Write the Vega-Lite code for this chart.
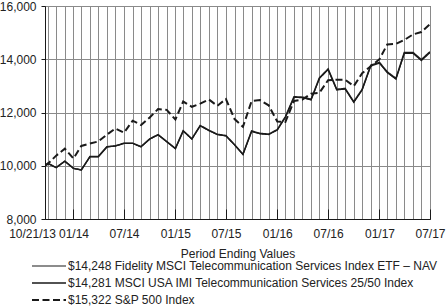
{
  "$schema": "https://vega.github.io/schema/vega-lite/v6.json",
  "width": 385,
  "height": 213,
  "autosize": {"type": "none"},
  "padding": {"left": 45, "top": 6, "right": 16, "bottom": 87},
  "background": "white",
  "config": {
    "font": "Liberation Sans",
    "view": {"stroke": "#1a1a1a", "strokeWidth": 1},
    "axis": {"labelFont": "Liberation Sans", "titleFont": "Liberation Sans", "labelColor": "#222222", "titleColor": "#222222"}
  },
  "data": {
    "values": [
      {"date": "2013-10-21", "fund": 10000, "index": 10000, "sp": 10000},
      {"date": "2013-10-31", "fund": 10090, "index": 10091, "sp": 10070},
      {"date": "2013-11-30", "fund": 9930, "index": 9931, "sp": 10379},
      {"date": "2013-12-31", "fund": 10170, "index": 10172, "sp": 10642},
      {"date": "2014-01-31", "fund": 9900, "index": 9902, "sp": 10273},
      {"date": "2014-02-28", "fund": 9840, "index": 9842, "sp": 10743},
      {"date": "2014-03-31", "fund": 10340, "index": 10343, "sp": 10833},
      {"date": "2014-04-30", "fund": 10340, "index": 10344, "sp": 10913},
      {"date": "2014-05-31", "fund": 10710, "index": 10714, "sp": 11170},
      {"date": "2014-06-30", "fund": 10740, "index": 10745, "sp": 11401},
      {"date": "2014-07-31", "fund": 10840, "index": 10845, "sp": 11244},
      {"date": "2014-08-31", "fund": 10840, "index": 10846, "sp": 11693},
      {"date": "2014-09-30", "fund": 10710, "index": 10717, "sp": 11530},
      {"date": "2014-10-31", "fund": 11000, "index": 11007, "sp": 11811},
      {"date": "2014-11-30", "fund": 11160, "index": 11168, "sp": 12129},
      {"date": "2014-12-31", "fund": 10900, "index": 10908, "sp": 12099},
      {"date": "2015-01-31", "fund": 10640, "index": 10649, "sp": 11736},
      {"date": "2015-02-28", "fund": 11305, "index": 11315, "sp": 12411},
      {"date": "2015-03-31", "fund": 11000, "index": 11010, "sp": 12215},
      {"date": "2015-04-30", "fund": 11500, "index": 11511, "sp": 12332},
      {"date": "2015-05-31", "fund": 11320, "index": 11331, "sp": 12491},
      {"date": "2015-06-30", "fund": 11170, "index": 11182, "sp": 12249},
      {"date": "2015-07-31", "fund": 11120, "index": 11132, "sp": 12506},
      {"date": "2015-08-31", "fund": 10780, "index": 10792, "sp": 11752},
      {"date": "2015-09-30", "fund": 10420, "index": 10432, "sp": 11462},
      {"date": "2015-10-31", "fund": 11290, "index": 11304, "sp": 12429},
      {"date": "2015-11-30", "fund": 11200, "index": 11215, "sp": 12466},
      {"date": "2015-12-31", "fund": 11170, "index": 11185, "sp": 12269},
      {"date": "2016-01-31", "fund": 11340, "index": 11356, "sp": 11661},
      {"date": "2016-02-29", "fund": 11820, "index": 11837, "sp": 11646},
      {"date": "2016-03-31", "fund": 12570, "index": 12589, "sp": 12435},
      {"date": "2016-04-30", "fund": 12556, "index": 12575, "sp": 12484},
      {"date": "2016-05-31", "fund": 12470, "index": 12490, "sp": 12708},
      {"date": "2016-06-30", "fund": 13280, "index": 13302, "sp": 12741},
      {"date": "2016-07-31", "fund": 13610, "index": 13633, "sp": 13211},
      {"date": "2016-08-31", "fund": 12845, "index": 12868, "sp": 13230},
      {"date": "2016-09-30", "fund": 12880, "index": 12903, "sp": 13233},
      {"date": "2016-10-31", "fund": 12380, "index": 12403, "sp": 12992},
      {"date": "2016-11-30", "fund": 12845, "index": 12869, "sp": 13473},
      {"date": "2016-12-31", "fund": 13750, "index": 13777, "sp": 13740},
      {"date": "2017-01-31", "fund": 13850, "index": 13878, "sp": 14001},
      {"date": "2017-02-28", "fund": 13495, "index": 13523, "sp": 14557},
      {"date": "2017-03-31", "fund": 13250, "index": 13278, "sp": 14574},
      {"date": "2017-04-30", "fund": 14220, "index": 14252, "sp": 14724},
      {"date": "2017-05-31", "fund": 14220, "index": 14253, "sp": 14932},
      {"date": "2017-06-30", "fund": 13950, "index": 13983, "sp": 15024},
      {"date": "2017-07-31", "fund": 14248, "index": 14281, "sp": 15322}
    ]
  },
  "transform": [
    {"fold": ["fund", "index", "sp"], "as": ["series", "value"]}
  ],
  "mark": {"type": "line", "strokeJoin": "miter", "clip": true},
  "encoding": {
    "x": {
      "field": "date",
      "type": "temporal",
      "scale": {
        "type": "utc",
        "nice": false,
        "domain": [
          {"year": 2013, "month": 10, "date": 21, "utc": true},
          {"year": 2017, "month": 7, "date": 31, "utc": true}
        ]
      },
      "axis": {
        "title": "Period Ending Values",
        "titleFontSize": 12,
        "titleFontWeight": "normal",
        "titlePadding": 9,
        "labelFontSize": 12,
        "labelPadding": {"condition": {"test": "utcdate(datum.value) != 21 && (utcmonth(datum.value) == 0 || utcmonth(datum.value) == 6)", "value": 19}, "value": 9},
        "labelOverlap": false,
        "labelFlush": false,
        "labelExpr": "utcdate(datum.value) == 21 ? '10/21/13' : ((utcmonth(datum.value) == 0 || utcmonth(datum.value) == 6) ? utcFormat(datum.value, '%m/%y') : '')",
        "labelOffset": {"condition": {"test": "utcdate(datum.value) == 21", "value": -13}, "value": 0},
        "ticks": true,
        "tickSize": {"condition": {"test": "utcdate(datum.value) != 21 && (utcmonth(datum.value) == 0 || utcmonth(datum.value) == 6)", "value": -10}, "value": 0},
        "tickColor": "#1a1a1a",
        "tickWidth": 1,
        "domainColor": "#1a1a1a",
        "grid": true,
        "gridColor": "#8a8a8a",
        "gridWidth": 1,
        "gridOpacity": 1,
        "values": [
          {"year": 2013, "month": 10, "date": 21, "utc": true},
          {"year": 2013, "month": 10, "date": 31, "utc": true},
          {"year": 2013, "month": 11, "date": 30, "utc": true},
          {"year": 2013, "month": 12, "date": 31, "utc": true},
          {"year": 2014, "month": 1, "date": 31, "utc": true},
          {"year": 2014, "month": 2, "date": 28, "utc": true},
          {"year": 2014, "month": 3, "date": 31, "utc": true},
          {"year": 2014, "month": 4, "date": 30, "utc": true},
          {"year": 2014, "month": 5, "date": 31, "utc": true},
          {"year": 2014, "month": 6, "date": 30, "utc": true},
          {"year": 2014, "month": 7, "date": 31, "utc": true},
          {"year": 2014, "month": 8, "date": 31, "utc": true},
          {"year": 2014, "month": 9, "date": 30, "utc": true},
          {"year": 2014, "month": 10, "date": 31, "utc": true},
          {"year": 2014, "month": 11, "date": 30, "utc": true},
          {"year": 2014, "month": 12, "date": 31, "utc": true},
          {"year": 2015, "month": 1, "date": 31, "utc": true},
          {"year": 2015, "month": 2, "date": 28, "utc": true},
          {"year": 2015, "month": 3, "date": 31, "utc": true},
          {"year": 2015, "month": 4, "date": 30, "utc": true},
          {"year": 2015, "month": 5, "date": 31, "utc": true},
          {"year": 2015, "month": 6, "date": 30, "utc": true},
          {"year": 2015, "month": 7, "date": 31, "utc": true},
          {"year": 2015, "month": 8, "date": 31, "utc": true},
          {"year": 2015, "month": 9, "date": 30, "utc": true},
          {"year": 2015, "month": 10, "date": 31, "utc": true},
          {"year": 2015, "month": 11, "date": 30, "utc": true},
          {"year": 2015, "month": 12, "date": 31, "utc": true},
          {"year": 2016, "month": 1, "date": 31, "utc": true},
          {"year": 2016, "month": 2, "date": 29, "utc": true},
          {"year": 2016, "month": 3, "date": 31, "utc": true},
          {"year": 2016, "month": 4, "date": 30, "utc": true},
          {"year": 2016, "month": 5, "date": 31, "utc": true},
          {"year": 2016, "month": 6, "date": 30, "utc": true},
          {"year": 2016, "month": 7, "date": 31, "utc": true},
          {"year": 2016, "month": 8, "date": 31, "utc": true},
          {"year": 2016, "month": 9, "date": 30, "utc": true},
          {"year": 2016, "month": 10, "date": 31, "utc": true},
          {"year": 2016, "month": 11, "date": 30, "utc": true},
          {"year": 2016, "month": 12, "date": 31, "utc": true},
          {"year": 2017, "month": 1, "date": 31, "utc": true},
          {"year": 2017, "month": 2, "date": 28, "utc": true},
          {"year": 2017, "month": 3, "date": 31, "utc": true},
          {"year": 2017, "month": 4, "date": 30, "utc": true},
          {"year": 2017, "month": 5, "date": 31, "utc": true},
          {"year": 2017, "month": 6, "date": 30, "utc": true},
          {"year": 2017, "month": 7, "date": 31, "utc": true}
        ]
      }
    },
    "y": {
      "field": "value",
      "type": "quantitative",
      "scale": {"domain": [8000, 16000], "nice": false, "zero": false},
      "axis": {
        "title": null,
        "values": [8000, 10000, 12000, 14000, 16000],
        "format": ",.0f",
        "labelFontSize": 12,
        "labelPadding": 5,
        "tickSize": 4,
        "tickColor": "#1a1a1a",
        "domainColor": "#1a1a1a",
        "gridColor": "#8a8a8a",
        "gridOpacity": 1,
        "gridWidth": 1
      }
    },
    "color": {
      "field": "series",
      "type": "nominal",
      "scale": {"domain": ["fund", "index", "sp"], "range": ["#1a1a1a", "#1a1a1a", "#1a1a1a"]},
      "legend": {
        "title": null,
        "orient": "none",
        "legendX": -2,
        "legendY": 254,
        "direction": "vertical",
        "symbolType": "M-3.4,0H3.4",
        "symbolSize": 100,
        "labelOffset": 13,
        "labelFontSize": 12,
        "labelColor": "#222222",
        "rowPadding": 5,
        "labelLimit": 500,
        "labelExpr": "datum.label == 'fund' ? '$14,248 Fidelity MSCI Telecommunication Services Index ETF – NAV' : (datum.label == 'index' ? '$14,281 MSCI USA IMI Telecommunication Services 25/50 Index' : '$15,322 S&P 500 Index')"
      }
    },
    "strokeDash": {
      "field": "series",
      "type": "nominal",
      "scale": {"domain": ["fund", "index", "sp"], "range": [[1, 0], [1, 0], [7, 3.5]]}
    },
    "strokeWidth": {
      "field": "series",
      "type": "nominal",
      "scale": {"domain": ["fund", "index", "sp"], "range": [1.2, 2, 1.5]}
    }
  }
}
